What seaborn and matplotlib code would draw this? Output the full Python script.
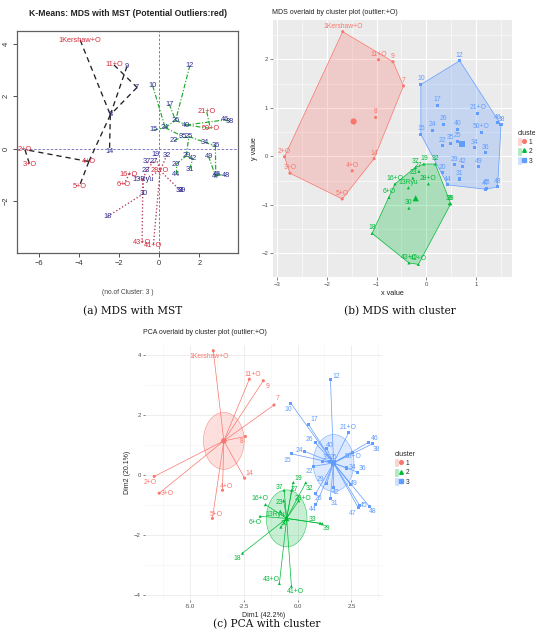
import numpy as np
import pandas as pd
import matplotlib
matplotlib.use("Agg")
import matplotlib.pyplot as plt
import seaborn as sns
from matplotlib.patches import Polygon, Ellipse, Patch
from matplotlib.lines import Line2D
from matplotlib.legend_handler import HandlerTuple

# ---------------- data ----------------
obs_labels = ["1Kershaw+O", "2+O", "3+O", "4+O", "5+O", "6+O", "7", "8", "9", "10",
              "11+O", "12", "13Ryu", "14", "15", "16+O", "17", "18", "19", "20",
              "21+O", "22", "23", "24", "25", "26", "27", "28+O", "29", "30",
              "31", "32", "33", "34", "35", "36", "37", "38", "39", "40",
              "41+O", "42", "43+O", "44", "45", "46", "47", "48", "49", "50+O"]
obs_cluster = [1, 1, 1, 1, 1, 2, 1, 1, 1, 3,
               1, 3, 2, 1, 3, 2, 3, 2, 2, 3,
               3, 3, 2, 3, 3, 3, 2, 2, 3, 2,
               3, 2, 2, 3, 3, 3, 2, 3, 2, 3,
               2, 3, 2, 3, 3, 3, 3, 3, 3, 3]
# principal coordinates (panel a and c)
pca_x = [-3.93, -6.68, -6.45, -3.50, -3.97, -1.75, -1.10, -2.43, -1.60, -0.32,
         -2.25, 1.53, -0.81, -2.47, -0.28, -1.50, 0.50, -2.57, -0.20, 0.85,
         2.37, 0.75, -0.65, 0.30, 1.48, 0.82, -0.28, 0.05, 1.35, -0.78,
         1.52, 0.38, 1.05, 2.27, 1.17, 2.80, -0.63, 3.50, 1.15, 1.35,
         -0.29, 1.67, -0.85, 0.85, 2.88, 3.30, 2.82, 3.33, 2.46, 2.55]
pca_y = [4.15, -0.04, -0.60, -0.50, -1.44, -1.37, 2.34, 1.29, 3.15, 2.40,
         3.20, 3.18, -1.20, -0.10, 0.71, -0.98, 1.70, -2.60, -0.24, -0.60,
         1.41, 0.30, -0.85, 0.80, 0.46, 1.08, -0.50, -0.85, -0.28, -1.73,
         -0.79, -0.25, -1.60, 0.24, 0.46, 0.10, -0.50, 1.05, -1.62, 0.90,
         -3.70, -0.40, -3.61, -0.99, -1.00, 1.10, -1.08, -1.03, -0.30, 0.77]
# MDS coordinates (panel b)
mds_x = [-1.68, -2.85, -2.74, -1.49, -1.69, -0.75, -0.46, -1.02, -0.67, -0.11,
         -0.96, 0.67, -0.36, -1.05, -0.11, -0.63, 0.22, -1.09, -0.05, 0.33,
         1.03, 0.33, -0.27, 0.13, 0.63, 0.35, -0.15, 0.04, 0.57, -0.35,
         0.66, 0.18, 0.46, 0.97, 0.48, 1.19, -0.22, 1.50, 0.49, 0.63,
         -0.16, 0.72, -0.35, 0.43, 1.21, 1.43, 1.19, 1.43, 1.05, 1.10]
mds_y = [2.57, -0.01, -0.35, -0.30, -0.88, -0.85, 1.45, 0.80, 1.95, 1.48,
         1.99, 1.97, -0.65, -0.05, 0.45, -0.57, 1.05, -1.59, -0.16, -0.34,
         0.89, 0.22, -0.45, 0.54, 0.31, 0.66, -0.31, -0.57, -0.17, -1.07,
         -0.47, -0.16, -0.98, 0.18, 0.27, 0.07, -0.23, 0.65, -0.98, 0.56,
         -2.23, -0.22, -2.20, -0.59, -0.66, 0.69, -0.68, -0.63, -0.22, 0.49]
# minimum spanning tree edges (observation numbers)
mst_edges = [(1, 8), (11, 7), (9, 8), (7, 8), (8, 14), (8, 4), (4, 5), (4, 2), (2, 3),
             (12, 26), (10, 24), (17, 26), (26, 40), (40, 46), (46, 38), (40, 50), (21, 50),
             (15, 24), (24, 26), (24, 35), (22, 35), (35, 25), (25, 34), (34, 36), (36, 47),
             (47, 45), (45, 48), (49, 47), (29, 25), (42, 29), (20, 29), (31, 42), (44, 20),
             (19, 28), (32, 28), (37, 27), (27, 23), (23, 13), (16, 13), (13, 28), (6, 16),
             (13, 30), (30, 18), (28, 33), (33, 39), (28, 41), (13, 43)]
cluster_names = ["1", "2", "3"]
n_clusters = 3

# ---------------- style ----------------
W, H = 535, 631
RED, GREEN, BLUE = "#F8766D", "#00BA38", "#619CFF"
pal = {"1": RED, "2": GREEN, "3": BLUE}
marks = {"1": "o", "2": "^", "3": "s"}
R_RED, R_NAVY = "#d42a3c", "#2e2e96"
mst_style = {1: dict(color="#222222", ls=(0, (4, 3)), lw=0.95),
             3: dict(color="#22a82a", ls=(0, (4, 1.5, 1, 1.5)), lw=0.85),
             2: dict(color="#b0385a", ls=(0, (1, 1.6)), lw=0.95)}

# label nudges for the PCA plot (pixels)
nudge_c = {1: (-4, -6), 2: (-4, -6), 3: (8, 0), 4: (4, 4), 5: (4, 4), 7: (3, 6), 8: (-4, -5),
           9: (4, -6), 11: (3, 5), 14: (5, 5), 12: (6, 3), 10: (-3, -6), 17: (6, 5),
           21: (0, 5), 46: (6, 4), 38: (4, -6), 26: (-6, 3), 40: (3, 3), 15: (-4, -7),
           24: (-5, 1), 22: (-4, -5), 34: (6, 0), 36: (5, 4), 49: (3, 1), 29: (-6, 4),
           42: (2, -5), 20: (3, -5), 31: (4, -5), 44: (-3, -5), 45: (4, 0), 47: (-6, -6),
           48: (3, -5), 50: (1, -4), 19: (5, 4), 32: (4, -6), 37: (-5, 3), 27: (3, 1),
           23: (-4, -2), 16: (-5, 6), 13: (-5, -3), 28: (4, 2), 6: (-5, -6), 33: (-8, 4),
           39: (4, -5), 18: (-5, -5), 43: (-8, 4), 41: (4, -5)}


def frac(l, t, r, b):
    return [l / W, 1 - b / H, (r - l) / W, (b - t) / H]


def fx(x):
    return x / W


def fy(y):
    return 1 - y / H


def convex_hull(points):
    pts = sorted(set(points))
    if len(pts) <= 2:
        return pts

    def cross(o, a, b):
        return (a[0] - o[0]) * (b[1] - o[1]) - (a[1] - o[1]) * (b[0] - o[0])
    lower, upper = [], []
    for p in pts:
        while len(lower) >= 2 and cross(lower[-2], lower[-1], p) <= 0:
            lower.pop()
        lower.append(p)
    for p in reversed(pts):
        while len(upper) >= 2 and cross(upper[-2], upper[-1], p) <= 0:
            upper.pop()
        upper.append(p)
    return lower[:-1] + upper[:-1]


sns.set_style("white")
plt.rcParams["font.family"] = ["Liberation Sans", "DejaVu Sans"]

df = pd.DataFrame({"label": obs_labels,
                   "cluster": [str(c) for c in obs_cluster],
                   "pca_x": pca_x, "pca_y": pca_y,
                   "mds_x": mds_x, "mds_y": mds_y})
df["outlier"] = df["label"].str.endswith("+O")

fig = plt.figure(figsize=(W / 100, H / 100), dpi=100)

# ================= panel (a) =================
ax_a = fig.add_axes(frac(16.5, 31, 238.5, 253))
ax_a.set_xlim(-7.1, 3.95)
ax_a.set_ylim(-4.0, 4.5)
ax_a.axhline(0, color="#6a6ab8", lw=0.6, ls=(0, (3, 2)), zorder=1)
ax_a.axvline(0, color="#6a6ab8", lw=0.6, ls=(0, (3, 2)), zorder=1)
for i, j in mst_edges:
    c = obs_cluster[i - 1]
    ax_a.plot([pca_x[i - 1], pca_x[j - 1]], [pca_y[i - 1], pca_y[j - 1]],
              zorder=2, **mst_style[c])
for k, row in df.iterrows():
    ax_a.text(row.pca_x, row.pca_y, row.label, fontsize=5.3,
              color=R_RED if row.outlier else R_NAVY,
              ha="center", va="center", zorder=3)
ax_a.set_xticks([-6, -4, -2, 0, 2])
ax_a.set_yticks([-2, 0, 2, 4])
ax_a.tick_params(direction="out", length=3, width=0.6, labelsize=5.4, pad=2,
                 colors="#333333", left=True, bottom=True)
for lab in ax_a.get_yticklabels():
    lab.set_rotation(90)
    lab.set_va("center")
for s in ax_a.spines.values():
    s.set_color("#606060")
    s.set_linewidth(0.9)
ax_a.set_xlabel("")
ax_a.set_ylabel("")

fig.text(fx(128), fy(13), "K-Means: MDS with MST (Potential Outliers:red)",
         ha="center", va="center", fontsize=6.2, fontweight="bold", color="#222222")
fig.text(fx(128), fy(293), f"(no.of Cluster: {n_clusters} )", ha="center", va="center",
         fontsize=4.8, color="#444444")

# ================= panel (b) =================
ax_b = fig.add_axes(frac(273, 20, 512, 277))
ax_b.set_facecolor("#EBEBEB")
ax_b.set_xlim(-3.08, 1.72)
ax_b.set_ylim(-2.49, 2.81)
ax_b.set_xticks([-3, -2, -1, 0, 1])
ax_b.set_yticks([-2, -1, 0, 1, 2])
ax_b.set_xticks([-2.5, -1.5, -0.5, 0.5, 1.5], minor=True)
ax_b.set_yticks([-1.5, -0.5, 0.5, 1.5, 2.5], minor=True)
ax_b.grid(True, which="major", color="white", lw=0.8)
ax_b.grid(True, which="minor", color="white", lw=0.4)
ax_b.set_axisbelow(True)
for s in ax_b.spines.values():
    s.set_visible(False)
ax_b.tick_params(which="major", direction="out", length=2, width=0.5, labelsize=4.3,
                 colors="#4d4d4d", pad=1.5, left=True, bottom=True)
ax_b.tick_params(which="minor", length=0)

for cl in cluster_names:
    sub = df[df.cluster == cl]
    h = convex_hull(list(zip(sub.mds_x, sub.mds_y)))
    ax_b.add_patch(Polygon(h, closed=True, facecolor=pal[cl], alpha=0.27,
                           edgecolor="none", zorder=1))
    ax_b.add_patch(Polygon(h, closed=True, facecolor="none", edgecolor=pal[cl],
                           lw=0.5, zorder=1.5))

sns.scatterplot(data=df, x="mds_x", y="mds_y", hue="cluster", style="cluster",
                palette=pal, markers=marks, s=5, linewidth=0, legend=False,
                ax=ax_b, zorder=3)
cent_b = df.groupby("cluster")[["mds_x", "mds_y"]].mean().reset_index()
sns.scatterplot(data=cent_b, x="mds_x", y="mds_y", hue="cluster", style="cluster",
                palette=pal, markers=marks, s=20, linewidth=0, legend=False,
                ax=ax_b, zorder=3)
for k, row in df.iterrows():
    ax_b.annotate(row.label, (row.mds_x, row.mds_y), xytext=(0, 5.5),
                  textcoords="offset pixels", ha="center", va="center",
                  fontsize=4.9, color=pal[row.cluster], zorder=4)
ax_b.set_xlabel("x value", fontsize=5.2, color="#222222", labelpad=2)
ax_b.set_ylabel("y value", fontsize=5.2, color="#222222", labelpad=2)
fig.text(fx(272), fy(13), "MDS overlaid by cluster plot (outlier:+O)",
         ha="left", va="center", fontsize=5.0, color="#222222")


def legend_handles(alpha):
    hs = []
    for cl in cluster_names:
        hs.append((Patch(facecolor=pal[cl], alpha=alpha, edgecolor=pal[cl], lw=0.4),
                   Line2D([], [], marker=marks[cl], color=pal[cl], ls="none", markersize=2.6)))
    return hs


leg_b = fig.legend(legend_handles(0.3), cluster_names, title="cluster",
                   loc="upper left", bbox_to_anchor=(fx(513), fy(125)),
                   frameon=False, fontsize=4.8, title_fontsize=5.0,
                   handler_map={tuple: HandlerTuple(ndivide=None)},
                   handlelength=1.2, handleheight=1.2, handletextpad=0.5,
                   labelspacing=0.25, borderpad=0.2)
leg_b._legend_box.align = "left"

# ================= panel (c) =================
ax_c = fig.add_axes(frac(145, 345, 382, 600))
ax_c.set_facecolor("white")
ax_c.set_xlim(-7.11, 3.93)
ax_c.set_ylim(-4.16, 4.34)
ax_c.set_xticks([-5, -2.5, 0, 2.5])
ax_c.set_xticklabels(["-5.0", "-2.5", "0.0", "2.5"])
ax_c.set_yticks([-4, -2, 0, 2, 4])
ax_c.set_xticks([-6.25, -3.75, -1.25, 1.25, 3.75], minor=True)
ax_c.set_yticks([-3, -1, 1, 3], minor=True)
ax_c.grid(True, which="major", color="#EBEBEB", lw=0.6)
ax_c.grid(True, which="minor", color="#F3F3F3", lw=0.4)
ax_c.set_axisbelow(True)
for s in ax_c.spines.values():
    s.set_visible(False)
ax_c.tick_params(which="major", direction="out", length=1.5, width=0.5, labelsize=4.3,
                 colors="#4d4d4d", pad=1.5, left=True, bottom=True)
ax_c.tick_params(which="minor", length=0)

cent_c = df.groupby("cluster")[["pca_x", "pca_y"]].mean()
ellipse_level = 0.95
for cl in cluster_names:
    cx, cy = cent_c.loc[cl, "pca_x"], cent_c.loc[cl, "pca_y"]
    ax_c.add_patch(Ellipse((cx, cy), 2 * ellipse_level, 2 * ellipse_level,
                           facecolor=pal[cl], alpha=0.22, edgecolor="none", zorder=1))
    ax_c.add_patch(Ellipse((cx, cy), 2 * ellipse_level, 2 * ellipse_level,
                           facecolor="none", edgecolor=pal[cl], lw=0.4, alpha=0.8, zorder=1.5))
    sub = df[df.cluster == cl]
    for _, row in sub.iterrows():
        ax_c.plot([cx, row.pca_x], [cy, row.pca_y], color=pal[cl], lw=0.5, zorder=2)

sns.scatterplot(data=df, x="pca_x", y="pca_y", hue="cluster", style="cluster",
                palette=pal, markers=marks, s=5, linewidth=0, legend=False,
                ax=ax_c, zorder=3)
cent_c2 = cent_c.reset_index()
sns.scatterplot(data=cent_c2, x="pca_x", y="pca_y", hue="cluster", style="cluster",
                palette=pal, markers=marks, s=16, linewidth=0, legend=False,
                ax=ax_c, zorder=3)
for k, row in df.iterrows():
    dx, dy = nudge_c.get(k + 1, (4, 4))
    ax_c.annotate(row.label, (row.pca_x, row.pca_y), xytext=(dx, dy),
                  textcoords="offset pixels", ha="center", va="center",
                  fontsize=4.9, color=pal[row.cluster], zorder=4)
ax_c.set_xlabel("Dim1 (42.2%)", fontsize=5.0, color="#222222", labelpad=2)
ax_c.set_ylabel("Dim2 (20.1%)", fontsize=5.0, color="#222222", labelpad=2)
fig.text(fx(143), fy(332), "PCA overlaid by cluster plot (outlier:+O)",
         ha="left", va="center", fontsize=5.0, color="#222222")

leg_c = fig.legend(legend_handles(0.3), cluster_names, title="cluster",
                   loc="upper left", bbox_to_anchor=(fx(390), fy(446)),
                   frameon=False, fontsize=4.8, title_fontsize=5.0,
                   handler_map={tuple: HandlerTuple(ndivide=None)},
                   handlelength=1.2, handleheight=1.2, handletextpad=0.5,
                   labelspacing=0.25, borderpad=0.2)
leg_c._legend_box.align = "left"

# ================= captions =================
cap_kw = dict(ha="center", va="center", fontsize=7.6, family="DejaVu Serif", color="#111111")
fig.text(fx(133), fy(311), "(a) MDS with MST", **cap_kw)
fig.text(fx(400), fy(311), "(b) MDS with cluster", **cap_kw)
fig.text(fx(267), fy(624), "(c) PCA with cluster", **cap_kw)

fig.savefig("out.png", dpi=100, facecolor="white")
